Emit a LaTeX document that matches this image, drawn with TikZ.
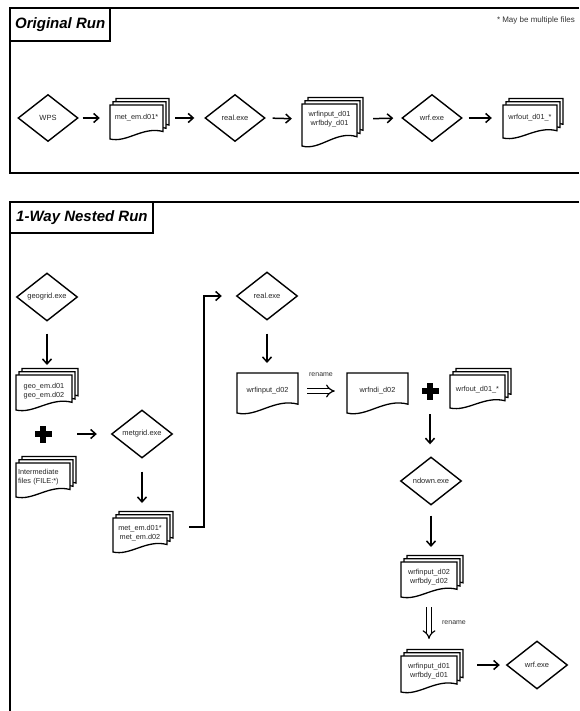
\documentclass[tikz,border=0pt]{standalone}
\usepackage{fontspec}
\setmainfont{Liberation Sans}
\usetikzlibrary{shapes.geometric,arrows.meta}

\tikzset{
  frame/.style={line width=1.8pt},
  dia/.style={diamond, draw, line width=1.4pt, minimum width=61pt, minimum height=48pt,
    inner sep=0pt, font=\fontsize{7.5}{8}\selectfont, text=black!85},
  lbl/.style={inner sep=0pt, font=\fontsize{7.3}{9.5}\selectfont, text=black!85, align=center},
  docline/.style={draw, fill=white, line width=1.3pt},
  arr/.style={line width=1.5pt, -{Straight Barb[length=5pt,width=9pt]}},
  dbl/.style={double, double distance=3.2pt, line width=1.2pt, -{Implies}},
  titletext/.style={font=\fontsize{15}{15}\selectfont\bfseries\itshape, inner sep=0pt, anchor=west},
  small/.style={font=\fontsize{7}{8}\selectfont, text=black!80, inner sep=0pt},
}

\newcommand\docshape[4]{%
  \pgfmathsetmacro\docX{#1}\pgfmathsetmacro\docY{#2}%
  \pgfmathsetmacro\docW{#3}\pgfmathsetmacro\docH{#4}%
  \path[docline] (\docX,\docY) -- ({\docX+\docW},\docY) -- ({\docX+\docW},{\docY+0.78*\docH})
    .. controls ({\docX+0.62*\docW},{\docY+0.62*\docH}) and ({\docX+0.32*\docW},{\docY+1.12*\docH})
    .. (\docX,{\docY+\docH}) -- cycle;}
\newcommand\docstack[4]{%
  \docshape{#1+6}{#2-6.5}{#3}{#4}%
  \docshape{#1+3}{#2-3.25}{#3}{#4}%
  \docshape{#1}{#2}{#3}{#4}}

\begin{document}
\begin{tikzpicture}[x=1pt,y=-1pt]
\fill[white] (0,0) rectangle (579,711);
\useasboundingbox (0,0) rectangle (579,711);

% ---------- Original Run ----------
\draw[frame] (579,8) -- (10,8) -- (10,173) -- (579,173);
\draw[frame] (10,8) rectangle (110,41);
\node[titletext] (titleA) at (15,25) {Original Run};
\node[small, anchor=east, font=\fontsize{8}{9}\selectfont] (note) at (575,20) {* May be multiple files};

\node[dia, minimum width=60pt, minimum height=47pt] (wps) at (48,118) {WPS};
\docstack{110}{105}{53}{34}
\node[lbl, minimum width=53pt] (metem1) at (136.5,118) {met\_em.d01*};
\node[dia, minimum width=60pt, minimum height=47pt] (real1) at (235,118) {real.exe};
\docstack{302}{104}{55}{42}
\node[lbl, minimum width=55pt] (wrfin1) at (329.5,119) {wrfinput\_d01\\wrfbdy\_d01};
\node[dia, minimum width=60pt, minimum height=47pt] (wrf1) at (432,118) {wrf.exe};
\docstack{503}{105}{54}{33}
\node[lbl, minimum width=54pt] (wrfout1) at (530,118) {wrfout\_d01\_*};

\draw[arr, shorten <=4pt, shorten >=10pt] (wps.east) -- (metem1.west);
\draw[arr, shorten <=12pt, shorten >=10pt] (metem1.east) -- (real1.west);
\draw[arr, shorten <=7pt, shorten >=10pt] (real1.east) -- (wrfin1.west);
\draw[arr, shorten <=16pt, shorten >=8pt] (wrfin1.east) -- (wrf1.west);
\draw[arr, shorten <=6pt, shorten >=11pt] (wrf1.east) -- (wrfout1.west);

% ---------- 1-Way Nested Run ----------
\draw[frame] (579,202) -- (10,202) -- (10,711);
\draw[frame] (10,202) rectangle (153,233);
\node[titletext] (titleB) at (16,218) {1-Way Nested Run};

\node[dia] (geogrid) at (47,297) {geogrid.exe};
\docstack{16}{375}{56}{35}
\node[lbl, minimum width=56pt] (geo) at (44,391) {geo\_em.d01\\geo\_em.d02};

\node[inner sep=0pt, minimum size=17pt] (plus1) at (43,434) {};
\fill ([xshift=-8.5pt,yshift=-2.9pt]plus1.center) rectangle ([xshift=8.5pt,yshift=2.9pt]plus1.center);
\fill ([xshift=-2.9pt,yshift=-8.5pt]plus1.center) rectangle ([xshift=2.9pt,yshift=8.5pt]plus1.center);

\docstack{16}{463}{54}{34}
\node[lbl, text width=52pt, align=left] (inter) at (44,477) {Intermediate\\files (FILE:*)};

\node[dia] (metgrid) at (142,434) {metgrid.exe};
\docstack{113}{518}{54}{34}
\node[lbl, minimum width=54pt] (metem2) at (140,533) {met\_em.d01*\\met\_em.d02};

\node[dia] (real2) at (267,296) {real.exe};
\docshape{237}{373}{61}{40}
\node[lbl, minimum width=61pt] (wrfin2) at (267.5,391) {wrfinput\_d02};
\docshape{347}{373}{61}{40}
\node[lbl, minimum width=61pt] (wrfndi) at (377.5,391) {wrfndi\_d02};

\node[inner sep=0pt, minimum size=17pt] (plus2) at (430,391) {};
\fill ([xshift=-8.5pt,yshift=-2.9pt]plus2.center) rectangle ([xshift=8.5pt,yshift=2.9pt]plus2.center);
\fill ([xshift=-2.9pt,yshift=-8.5pt]plus2.center) rectangle ([xshift=2.9pt,yshift=8.5pt]plus2.center);

\docstack{450}{375}{55}{33}
\node[lbl, minimum width=55pt] (wrfout2) at (477.5,390) {wrfout\_d01\_*};

\node[dia] (ndown) at (431,481) {ndown.exe};
\docstack{401}{562}{56}{35}
\node[lbl, minimum width=56pt] (wrfin3) at (429,577) {wrfinput\_d02\\wrfbdy\_d02};
\docstack{401}{656}{56}{36}
\node[lbl, minimum width=56pt] (wrfin4) at (429,671) {wrfinput\_d01\\wrfbdy\_d01};
\node[dia] (wrf2) at (537,665) {wrf.exe};

\node[small] (ren1) at (321,375) {rename};
\node[small] (ren2) at (454,623) {rename};

\draw[arr, shorten <=12pt, shorten >=26pt] (geogrid.south) -- (geogrid.south |- geo.center);
\draw[arr, shorten <=34pt, shorten >=14pt] (plus1.center) -- (plus1.center -| metgrid.west);
\draw[arr, shorten <=13pt, shorten >=30pt] (metgrid.south) -- (metgrid.south |- metem2.center);
\draw[line width=1.5pt, -{Straight Barb[length=5pt,width=9pt]}, shorten >=14pt]
  ([xshift=22pt,yshift=6pt]metem2.east) -- ++(15,0) |- (real2.west);
\draw[arr, shorten <=13pt, shorten >=28pt] (real2.south) -- (real2.south |- wrfin2.center);
\draw[dbl, shorten <=9pt, shorten >=12pt] (wrfin2.east) -- (wrfndi.west);
\draw[arr, shorten <=23pt, shorten >=12pt] (plus2.center) -- (plus2.center |- ndown.north);
\draw[arr, shorten <=10pt, shorten >=30pt] (ndown.south) -- (ndown.south |- wrfin3.center);
\draw[dbl, shorten <=30pt, shorten >=32pt] (wrfin3.center) -- (wrfin4.center);
\draw[arr, shorten <=20pt, shorten >=6pt] (wrfin4.east |- wrf2.west) -- (wrf2.west);
\end{tikzpicture}
\end{document}
